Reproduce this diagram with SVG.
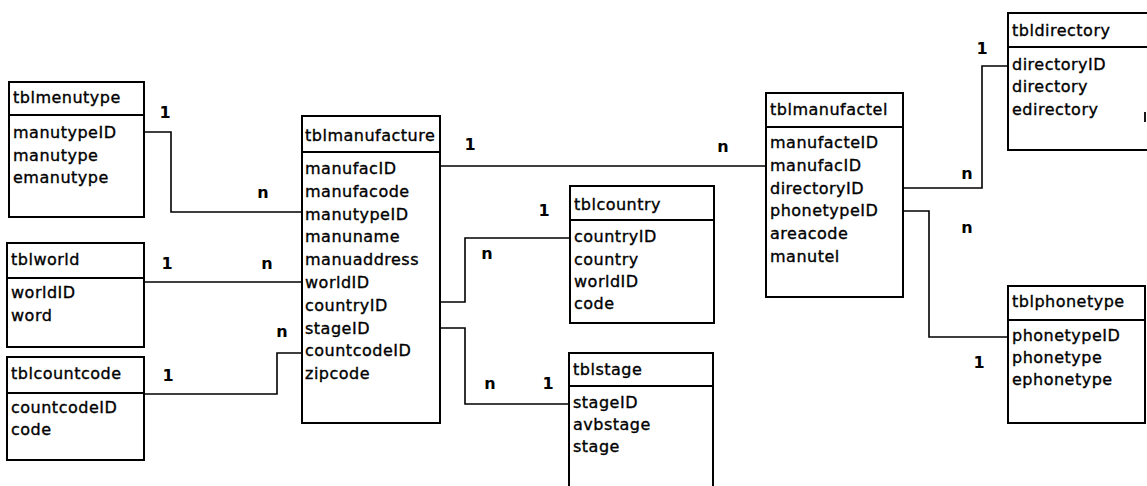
<svg xmlns="http://www.w3.org/2000/svg" width="1147" height="486" viewBox="0 0 1147 486">
<style>
.box{fill:#fff;stroke:#000;stroke-width:2}
.div{stroke:#000;stroke-width:1.8}
.t{font-family:"DejaVu Sans",Verdana,sans-serif;font-size:16px;letter-spacing:0.5px;fill:#000;stroke:#000;stroke-width:0.35}
.lbl{font-family:"DejaVu Sans",Verdana,sans-serif;font-size:16px;font-weight:bold;fill:#000;text-anchor:middle}
.con{fill:none;stroke:#000;stroke-width:1.6}
</style>
<rect width="1147" height="486" fill="#fff"/>
<g id="connectors">
<path class="con" d="M144,132 H171 V212 H302"/>
<path class="con" d="M144,282 H302"/>
<path class="con" d="M144,394 H277 V353 H302"/>
<path class="con" d="M440,302 H465 V238 H570"/>
<path class="con" d="M440,328 H465 V404 H569"/>
<path class="con" d="M440,166 H766"/>
<path class="con" d="M903,188 H982 V66 H1008"/>
<path class="con" d="M903,211 H929 V337 H1008"/>
<text class="lbl" x="165" y="118">1</text>
<text class="lbl" x="263" y="198">n</text>
<text class="lbl" x="167" y="269">1</text>
<text class="lbl" x="267" y="269">n</text>
<text class="lbl" x="168" y="381">1</text>
<text class="lbl" x="282" y="337">n</text>
<text class="lbl" x="544" y="216">1</text>
<text class="lbl" x="487" y="259">n</text>
<text class="lbl" x="490" y="389">n</text>
<text class="lbl" x="548" y="389">1</text>
<text class="lbl" x="470" y="150">1</text>
<text class="lbl" x="723" y="152">n</text>
<text class="lbl" x="982" y="54">1</text>
<text class="lbl" x="967" y="179">n</text>
<text class="lbl" x="967" y="233">n</text>
<text class="lbl" x="979" y="368">1</text>
</g>
<g id="tblmenutype">
<rect class="box" x="9" y="82" width="135" height="135"/>
<line class="div" x1="9" y1="115" x2="144" y2="115"/>
<text class="t" x="13" y="103">tblmenutype</text>
<text class="t" x="13" y="138">manutypeID</text>
<text class="t" x="13" y="161">manutype</text>
<text class="t" x="13" y="183">emanutype</text>
</g>
<g id="tblworld">
<rect class="box" x="7" y="243" width="137" height="104"/>
<line class="div" x1="7" y1="278" x2="144" y2="278"/>
<text class="t" x="11" y="265">tblworld</text>
<text class="t" x="11" y="298">worldID</text>
<text class="t" x="11" y="321">word</text>
</g>
<g id="tblcountcode">
<rect class="box" x="7" y="357" width="137" height="103"/>
<line class="div" x1="7" y1="393" x2="144" y2="393"/>
<text class="t" x="11" y="379">tblcountcode</text>
<text class="t" x="11" y="413">countcodeID</text>
<text class="t" x="11" y="435">code</text>
</g>
<g id="tblmanufacture">
<rect class="box" x="302" y="116" width="138" height="307"/>
<line class="div" x1="302" y1="152" x2="440" y2="152"/>
<text class="t" x="305" y="141">tblmanufacture</text>
<text class="t" x="305" y="174">manufacID</text>
<text class="t" x="305" y="197">manufacode</text>
<text class="t" x="305" y="220">manutypeID</text>
<text class="t" x="305" y="242">manuname</text>
<text class="t" x="305" y="265">manuaddress</text>
<text class="t" x="305" y="288">worldID</text>
<text class="t" x="305" y="311">countryID</text>
<text class="t" x="305" y="334">stageID</text>
<text class="t" x="305" y="356">countcodeID</text>
<text class="t" x="305" y="379">zipcode</text>
</g>
<g id="tblcountry">
<rect class="box" x="570" y="186" width="144" height="137"/>
<line class="div" x1="570" y1="220" x2="714" y2="220"/>
<text class="t" x="574" y="210">tblcountry</text>
<text class="t" x="574" y="242">countryID</text>
<text class="t" x="574" y="265">country</text>
<text class="t" x="574" y="287">worldID</text>
<text class="t" x="574" y="309">code</text>
</g>
<g id="tblstage">
<rect class="box" x="569" y="353" width="144" height="140"/>
<line class="div" x1="569" y1="386" x2="713" y2="386"/>
<text class="t" x="573" y="375">tblstage</text>
<text class="t" x="573" y="408">stageID</text>
<text class="t" x="573" y="430">avbstage</text>
<text class="t" x="573" y="452">stage</text>
</g>
<g id="tblmanufactel">
<rect class="box" x="766" y="93" width="137" height="204"/>
<line class="div" x1="766" y1="127" x2="903" y2="127"/>
<text class="t" x="770" y="115">tblmanufactel</text>
<text class="t" x="770" y="148">manufacteID</text>
<text class="t" x="770" y="171">manufacID</text>
<text class="t" x="770" y="194">directoryID</text>
<text class="t" x="770" y="216">phonetypeID</text>
<text class="t" x="770" y="239">areacode</text>
<text class="t" x="770" y="262">manutel</text>
</g>
<g id="tbldirectory">
<rect class="box" x="1008" y="13" width="145" height="137"/>
<line class="div" x1="1008" y1="47" x2="1147" y2="47"/>
<line class="div" x1="1145" y1="112" x2="1145" y2="122"/>
<text class="t" x="1012" y="36">tbldirectory</text>
<text class="t" x="1012" y="70">directoryID</text>
<text class="t" x="1012" y="92">directory</text>
<text class="t" x="1012" y="115">edirectory</text>
</g>
<g id="tblphonetype">
<rect class="box" x="1008" y="286" width="137" height="137"/>
<line class="div" x1="1008" y1="320" x2="1145" y2="320"/>
<text class="t" x="1012" y="307">tblphonetype</text>
<text class="t" x="1012" y="341">phonetypeID</text>
<text class="t" x="1012" y="363">phonetype</text>
<text class="t" x="1012" y="385">ephonetype</text>
</g>
</svg>
